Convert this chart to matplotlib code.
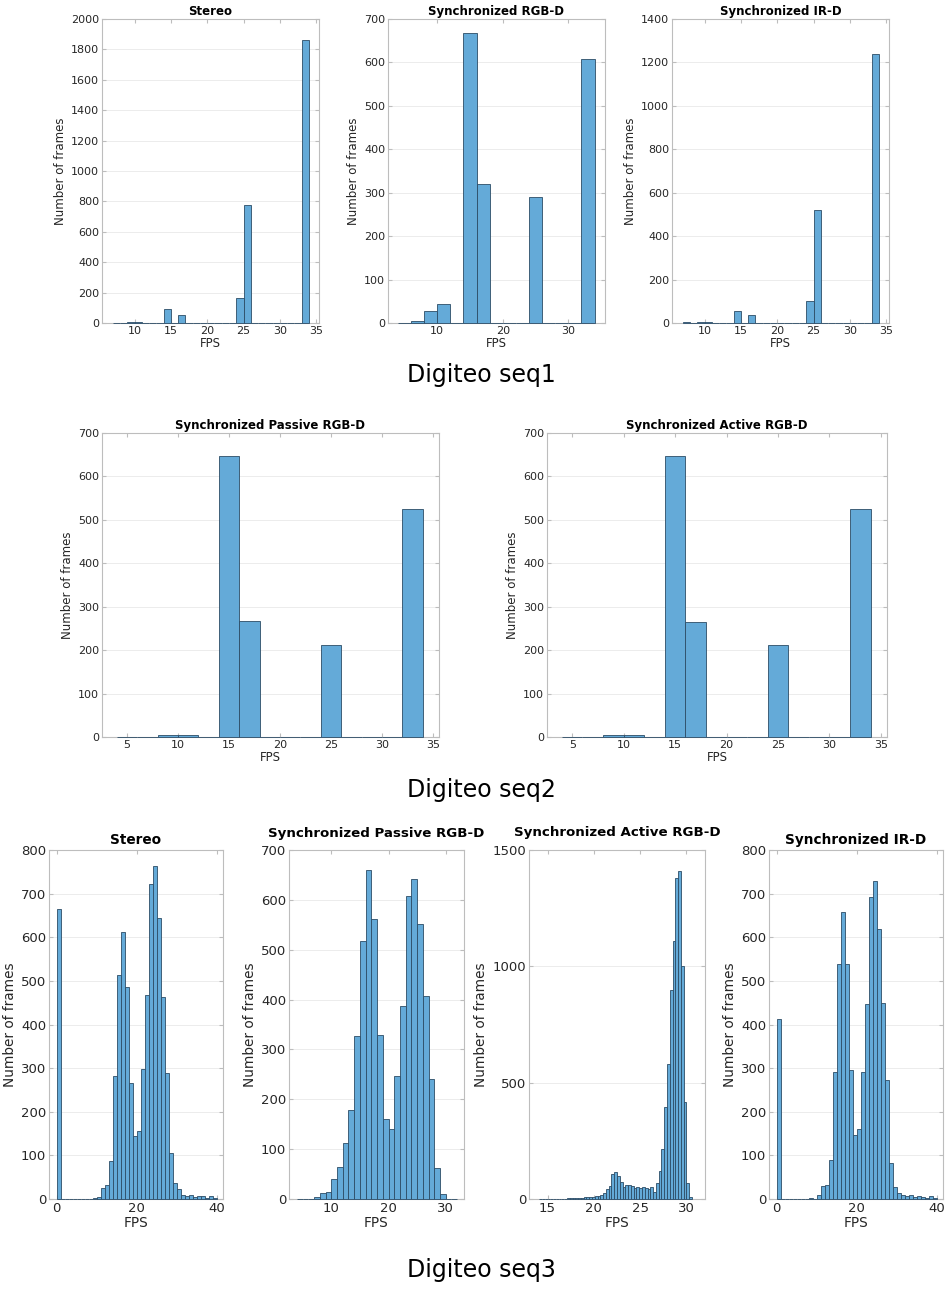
import matplotlib
matplotlib.use("Agg")
from matplotlib import pyplot as plt
import numpy as np

# ---- data (bin start, bin width, counts) ----
# Digiteo seq1
s1_stereo_start, s1_stereo_w = 7, 1
s1_stereo_counts = [1, 0, 4, 4, 0, 0, 0, 92, 0, 50, 0, 0, 0, 0, 0, 0, 0, 162, 774,
                    0, 0, 0, 0, 0, 0, 0, 1864]
s1_rgbd_start, s1_rgbd_w = 4, 2
s1_rgbd_counts = [1, 5, 28, 43, 0, 668, 320, 0, 0, 0, 290, 0, 0, 0, 608]
s1_ird_start, s1_ird_w = 7, 1
s1_ird_counts = [3, 0, 3, 3, 0, 0, 0, 55, 0, 35, 0, 0, 0, 0, 0, 0, 0, 101, 521,
                 0, 0, 0, 0, 0, 0, 0, 1241]

# Digiteo seq2
s2_passive_start, s2_passive_w = 4, 2
s2_passive_counts = [1, 0, 4, 4, 0, 646, 266, 0, 0, 0, 211, 0, 0, 0, 524]
s2_active_start, s2_active_w = 4, 2
s2_active_counts = [1, 0, 4, 4, 0, 646, 265, 0, 0, 0, 211, 0, 0, 0, 524]

# Digiteo seq3
s3_stereo_start, s3_stereo_w = 0, 1
s3_stereo_counts = [665, 0, 0, 0, 0, 0, 0, 0, 1, 2, 5, 25, 32, 87, 283, 513, 612, 486,
                    265, 145, 155, 298, 467, 723, 763, 645, 463, 289, 106, 37, 24, 10,
                    8, 9, 4, 6, 6, 3, 8, 3]
s3_passive_start, s3_passive_w = 4, 1
s3_passive_counts = [1, 1, 1, 5, 13, 15, 40, 65, 113, 178, 327, 518, 660, 561, 328, 160,
                     140, 247, 387, 607, 641, 551, 407, 241, 63, 11, 1, 1]
s3_active_start, s3_active_w = 14.1, 0.3
s3_active_counts = [1, 1, 1, 1, 1, 1, 1, 1, 1, 1, 3, 4, 3, 4, 5, 4, 8, 10, 10, 8,
                    15, 15, 18, 25, 45, 55, 108, 118, 98, 75, 50, 62, 60, 55, 48, 52,
                    47, 52, 48, 45, 52, 30, 68, 120, 215, 395, 580, 900, 1110, 1380,
                    1410, 1000, 415, 70, 10]
s3_ird_start, s3_ird_w = 0, 1
s3_ird_counts = [413, 0, 0, 0, 0, 0, 1, 0, 3, 1, 10, 30, 33, 90, 290, 538, 658, 538,
                 296, 147, 160, 290, 447, 692, 730, 620, 449, 273, 83, 28, 13, 9,
                 7, 10, 4, 6, 4, 3, 6, 3]

W, H = 953, 1289
FACE = '#64aad8'
EDGE = '#2c4c66'
TXT = '#262626'

fig = plt.figure(figsize=(W / 100, H / 100), dpi=100)


def px_axes(l, t, r, b):
    return fig.add_axes([l / W, 1 - b / H, (r - l) / W, (b - t) / H])


def hist_panel(ax, start, width, counts, title, xlim, xticks, yticks, fs, fl, ft, tpad=3):
    counts = np.asarray(counts, dtype=float)
    left = start + width * np.arange(len(counts))
    # drawn over the spines so empty bins show as a dark baseline
    ax.bar(left, counts, width=width, align='edge', color=FACE,
           edgecolor=EDGE, linewidth=0.6, zorder=3, clip_on=False)
    ax.set_xlim(*xlim)
    ax.set_ylim(yticks[0], yticks[-1])
    ax.set_xticks(xticks)
    ax.set_yticks(yticks)
    ax.set_axisbelow(True)
    ax.grid(True, axis='y', color='#ececec', linewidth=0.7)
    for sp in ax.spines.values():
        sp.set_color('#bdbdbd')
        sp.set_linewidth(0.8)
    ax.tick_params(direction='in', top=True, right=True, length=3,
                   color='#bdbdbd', labelcolor=TXT, labelsize=fs, pad=2)
    ax.set_title(title, fontsize=ft, fontweight='bold', color='black', pad=tpad)
    ax.set_xlabel('FPS', fontsize=fl, color=TXT, labelpad=1)
    ax.set_ylabel('Number of frames', fontsize=fl, color=TXT, labelpad=3)


# seq1
hist_panel(px_axes(102, 19, 319, 323), s1_stereo_start, s1_stereo_w, s1_stereo_counts,
           'Stereo', (5.5, 35.4), [10, 15, 20, 25, 30, 35], np.arange(0, 2001, 200),
           8, 8.5, 8.5)
hist_panel(px_axes(388, 19, 605, 323), s1_rgbd_start, s1_rgbd_w, s1_rgbd_counts,
           'Synchronized RGB-D', (2.5, 35.6), [10, 20, 30], np.arange(0, 701, 100),
           8, 8.5, 8.5)
hist_panel(px_axes(672, 19, 889, 323), s1_ird_start, s1_ird_w, s1_ird_counts,
           'Synchronized IR-D', (5.5, 35.4), [10, 15, 20, 25, 30, 35],
           np.arange(0, 1401, 200), 8, 8.5, 8.5)
fig.text(481 / W, 1 - 375 / H, 'Digiteo seq1', ha='center', va='center', fontsize=17)

# seq2
hist_panel(px_axes(102, 433, 439, 737), s2_passive_start, s2_passive_w, s2_passive_counts,
           'Synchronized Passive RGB-D', (2.55, 35.6), [5, 10, 15, 20, 25, 30, 35],
           np.arange(0, 701, 100), 8, 8.5, 8.5)
hist_panel(px_axes(547, 433, 887, 737), s2_active_start, s2_active_w, s2_active_counts,
           'Synchronized Active RGB-D', (2.55, 35.6), [5, 10, 15, 20, 25, 30, 35],
           np.arange(0, 701, 100), 8, 8.5, 8.5)
fig.text(481 / W, 1 - 790 / H, 'Digiteo seq2', ha='center', va='center', fontsize=17)

# seq3
hist_panel(px_axes(49, 850, 223, 1199), s3_stereo_start, s3_stereo_w, s3_stereo_counts,
           'Stereo', (-1.9, 41.5), [0, 20, 40], np.arange(0, 801, 100), 9.5, 9.8, 9.8,
           tpad=4)
hist_panel(px_axes(289, 850, 464, 1199), s3_passive_start, s3_passive_w, s3_passive_counts,
           'Synchronized Passive RGB-D', (2.6, 33.2), [10, 20, 30],
           np.arange(0, 701, 100), 9.5, 9.8, 9.6, tpad=9)
hist_panel(px_axes(529, 850, 705, 1199), s3_active_start, s3_active_w, s3_active_counts,
           'Synchronized Active RGB-D', (13.0, 32.0), [15, 20, 25, 30],
           np.arange(0, 1501, 500), 9.5, 9.8, 9.6, tpad=10)
hist_panel(px_axes(769, 850, 943, 1199), s3_ird_start, s3_ird_w, s3_ird_counts,
           'Synchronized IR-D', (-1.9, 41.5), [0, 20, 40], np.arange(0, 801, 100),
           9.5, 9.8, 9.8, tpad=4)
fig.text(481 / W, 1 - 1270 / H, 'Digiteo seq3', ha='center', va='center', fontsize=17)

fig.savefig('out.png', dpi=100)
